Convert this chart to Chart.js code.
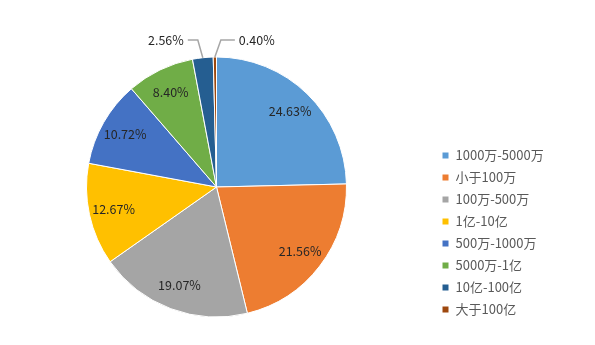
<!DOCTYPE html>
<html>
<head>
<meta charset="utf-8">
<script src="https://cdn.jsdelivr.net/npm/chart.js@4/dist/chart.umd.min.js"></script>
<style>
  html, body { margin: 0; padding: 0; background: #fff; }
</style>
</head>
<body>
<canvas id="pieChart" width="595" height="345"></canvas>
<script>
// Shares by amount bracket, clockwise from 12 o'clock
const categories = ['1000万-5000万', '小于100万', '100万-500万', '1亿-10亿', '500万-1000万', '5000万-1亿', '10亿-100亿', '大于100亿'];
const shares = [24.63, 21.56, 19.07, 12.67, 10.72, 8.40, 2.56, 0.40];
const sliceColors = ['#5B9BD5', '#ED7D31', '#A5A5A5', '#FFC000', '#4472C4', '#70AD47', '#255E91', '#9E480E'];

const fontFamily = '"Noto Sans CJK SC", "Noto Sans", sans-serif';
const legendFont = 13;
const legendBox = 7;
const legendPad = 9;

// Work out how wide the legend will be so the pie can sit at x = 216
const measure = document.createElement('canvas').getContext('2d');
measure.font = legendFont + 'px ' + fontFamily;
const widest = Math.max(...categories.map(c => measure.measureText(c).width));
const legendWidth = legendPad + legendBox + legendFont / 2 + widest + 10;
const padRight = Math.max(0, 595 - 433 - legendWidth);

// Percent labels: inside the larger slices, outside with leader lines for the thin ones
const sliceLabels = {
  id: 'sliceLabels',
  afterDatasetsDraw(chart) {
    const ctx = chart.ctx;
    const meta = chart.getDatasetMeta(0);
    let outsideCount = 0;
    ctx.save();
    ctx.font = '12.5px ' + fontFamily;
    ctx.fillStyle = '#262626';
    meta.data.forEach((arc, i) => {
      const p = arc.getProps(['x', 'y', 'startAngle', 'endAngle', 'outerRadius'], true);
      const mid = (p.startAngle + p.endAngle) / 2;
      const text = shares[i].toFixed(2) + '%';
      if (shares[i] >= 5) {
        const r = p.outerRadius * 0.81;
        ctx.textAlign = 'center';
        ctx.textBaseline = 'middle';
        ctx.fillText(text, p.x + Math.cos(mid) * r, p.y + Math.sin(mid) * r);
        return;
      }
      const toLeft = outsideCount++ === 0;
      const ex = p.x + Math.cos(mid) * p.outerRadius;
      const ey = p.y + Math.sin(mid) * p.outerRadius;
      const kx = ex + (toLeft ? -5 : 6);
      const ky = p.y - p.outerRadius - 17;
      const tx = kx + (toLeft ? -10 : 14);
      ctx.strokeStyle = '#A6A6A6';
      ctx.lineWidth = 1.5;
      ctx.beginPath();
      ctx.moveTo(ex, ey);
      ctx.lineTo(kx, ky);
      ctx.lineTo(tx, ky);
      ctx.stroke();
      ctx.textAlign = toLeft ? 'right' : 'left';
      ctx.textBaseline = 'middle';
      ctx.fillText(text, tx + (toLeft ? -4 : 4), ky);
    });
    ctx.restore();
  }
};

new Chart(document.getElementById('pieChart'), {
  type: 'pie',
  data: {
    labels: categories,
    datasets: [{
      data: shares,
      backgroundColor: sliceColors,
      borderColor: '#ffffff',
      borderWidth: 1,
      radius: 130
    }]
  },
  options: {
    responsive: false,
    animation: false,
    layout: {
      padding: { top: 49, bottom: 20, left: 0, right: padRight }
    },
    plugins: {
      tooltip: { enabled: false },
      legend: {
        position: 'right',
        align: 'end',
        labels: {
          boxWidth: legendBox,
          boxHeight: legendBox,
          padding: legendPad,
          color: '#595959',
          font: { size: legendFont, family: fontFamily }
        }
      }
    }
  },
  plugins: [sliceLabels]
});
</script>
</body>
</html>
